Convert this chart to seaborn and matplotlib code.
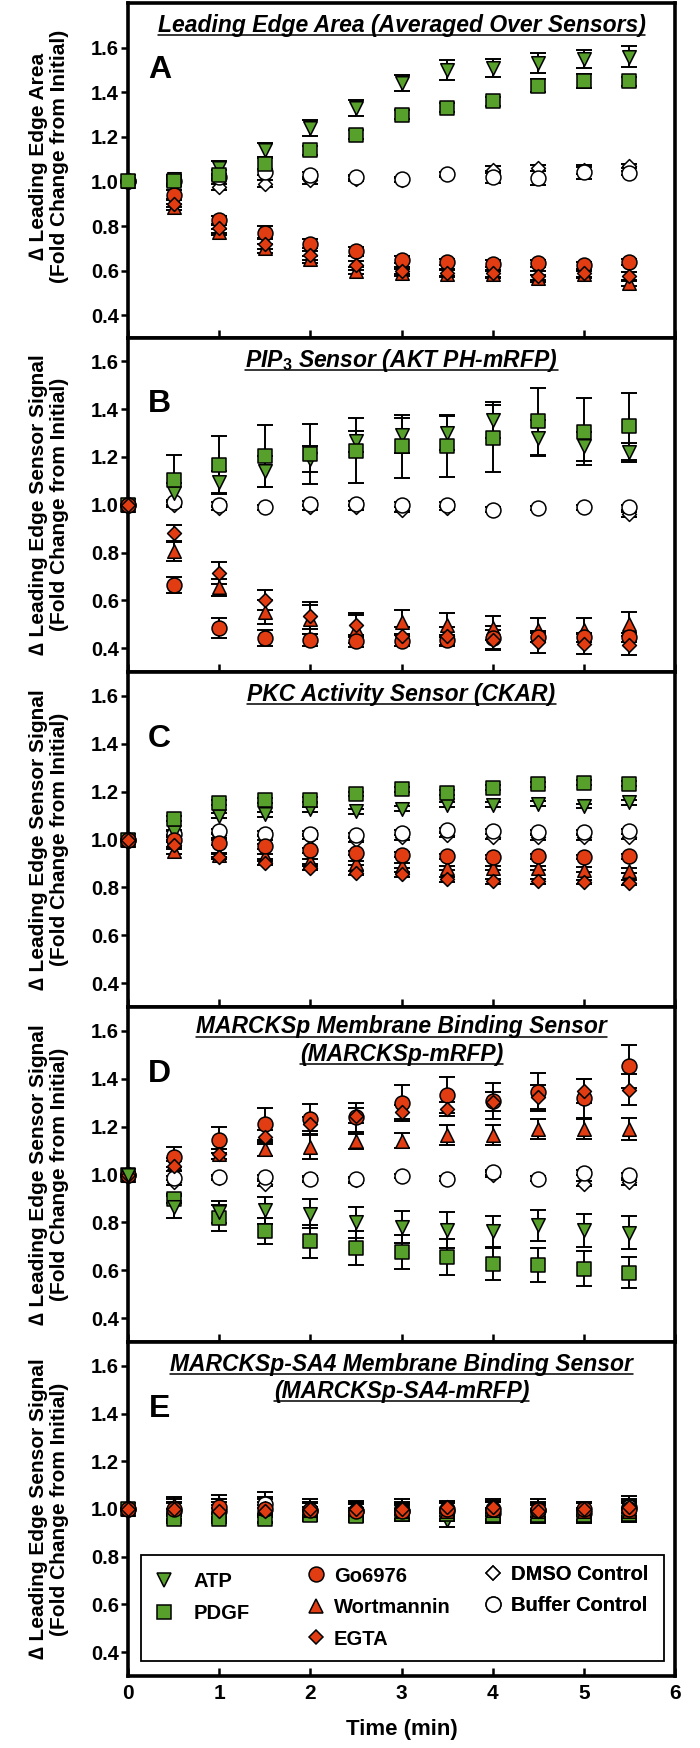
import matplotlib
matplotlib.use("Agg")
import matplotlib.pyplot as plt
import seaborn as sns
import numpy as np
import pandas as pd
from matplotlib.lines import Line2D
from matplotlib.patches import Rectangle
from matplotlib.ticker import FormatStrFormatter

# ---------------- data ----------------
times = [0, 0.5, 1, 1.5, 2, 2.5, 3, 3.5, 4, 4.5, 5, 5.5]
treatments = ["ATP", "PDGF", "Go6976", "Wortmannin", "EGTA", "DMSO Control", "Buffer Control"]

panel_letters = ["A", "B", "C", "D", "E"]
panel_titles = [
    ["Leading Edge Area (Averaged Over Sensors)"],
    ["PIP$_3$ Sensor (AKT PH-mRFP)"],
    ["PKC Activity Sensor (CKAR)"],
    ["MARCKSp Membrane Binding Sensor", "(MARCKSp-mRFP)"],
    ["MARCKSp-SA4 Membrane Binding Sensor", "(MARCKSp-SA4-mRFP)"],
]
ylabels = [
    "\u2206 Leading Edge Area\n(Fold Change from Initial)",
    "\u2206 Leading Edge Sensor Signal\n(Fold Change from Initial)",
    "\u2206 Leading Edge Sensor Signal\n(Fold Change from Initial)",
    "\u2206 Leading Edge Sensor Signal\n(Fold Change from Initial)",
    "\u2206 Leading Edge Sensor Signal\n(Fold Change from Initial)",
]
yticks = [0.4, 0.6, 0.8, 1.0, 1.2, 1.4, 1.6]
xticks = [0, 1, 2, 3, 4, 5, 6]

A_mean = {
    "ATP":            [1.00, 1.01, 1.06, 1.14, 1.24, 1.33, 1.44, 1.50, 1.51, 1.53, 1.55, 1.56],
    "PDGF":           [1.00, 1.00, 1.03, 1.08, 1.14, 1.21, 1.30, 1.33, 1.36, 1.43, 1.45, 1.45],
    "Go6976":         [1.00, 0.94, 0.825, 0.77, 0.72, 0.687, 0.649, 0.638, 0.631, 0.632, 0.623, 0.638],
    "Wortmannin":     [1.00, 0.885, 0.773, 0.70, 0.65, 0.60, 0.59, 0.586, 0.583, 0.565, 0.583, 0.545],
    "EGTA":           [1.00, 0.90, 0.79, 0.72, 0.668, 0.623, 0.60, 0.59, 0.588, 0.578, 0.588, 0.574],
    "DMSO Control":   [1.00, 1.00, 0.975, 0.99, 1.005, 1.012, 1.007, 1.034, 1.052, 1.06, 1.05, 1.069],
    "Buffer Control": [1.00, 1.00, 1.02, 1.042, 1.027, 1.02, 1.009, 1.031, 1.02, 1.015, 1.042, 1.037],
}
A_err = {
    "ATP":            [0, 0.02, 0.03, 0.03, 0.035, 0.035, 0.035, 0.045, 0.04, 0.045, 0.04, 0.045],
    "PDGF":           [0, 0.02, 0.02, 0.025, 0.02, 0.02, 0.02, 0.02, 0.02, 0.03, 0.03, 0.02],
    "Go6976":         [0, 0.02, 0.02, 0.03, 0.02, 0.02, 0.015, 0.015, 0.015, 0.015, 0.015, 0.015],
    "Wortmannin":     [0, 0.015, 0.015, 0.02, 0.015, 0.015, 0.015, 0.015, 0.015, 0.015, 0.015, 0.015],
    "EGTA":           [0, 0.015, 0.02, 0.025, 0.02, 0.02, 0.015, 0.015, 0.015, 0.02, 0.015, 0.02],
    "DMSO Control":   [0, 0.01, 0.015, 0.015, 0.015, 0.01, 0.01, 0.01, 0.015, 0.015, 0.015, 0.01],
    "Buffer Control": [0, 0.01, 0.015, 0.015, 0.015, 0.01, 0.01, 0.01, 0.025, 0.03, 0.03, 0.01],
}

B_mean = {
    "ATP":            [1.00, 1.05, 1.095, 1.14, 1.19, 1.265, 1.29, 1.30, 1.355, 1.28, 1.245, 1.22],
    "PDGF":           [1.00, 1.105, 1.167, 1.205, 1.213, 1.226, 1.244, 1.247, 1.279, 1.35, 1.306, 1.328],
    "Go6976":         [1.00, 0.665, 0.484, 0.442, 0.435, 0.431, 0.43, 0.435, 0.442, 0.445, 0.445, 0.445],
    "Wortmannin":     [1.00, 0.805, 0.654, 0.55, 0.52, 0.48, 0.508, 0.495, 0.484, 0.477, 0.477, 0.50],
    "EGTA":           [1.00, 0.881, 0.714, 0.603, 0.536, 0.495, 0.449, 0.449, 0.435, 0.425, 0.417, 0.412],
    "DMSO Control":   [1.00, 1.00, 0.986, 0.99, 0.99, 0.99, 0.98, 0.986, 0.98, 0.986, 0.99, 0.96],
    "Buffer Control": [1.00, 1.01, 1.00, 0.99, 1.005, 1.005, 1.00, 1.00, 0.98, 0.986, 0.99, 0.99],
}
B_err = {
    "ATP":            [0, 0.04, 0.045, 0.065, 0.055, 0.045, 0.075, 0.07, 0.075, 0.075, 0.06, 0.04],
    "PDGF":           [0, 0.105, 0.12, 0.13, 0.125, 0.135, 0.13, 0.13, 0.14, 0.14, 0.14, 0.14],
    "Go6976":         [0, 0.033, 0.04, 0.032, 0.026, 0.025, 0.023, 0.02, 0.05, 0.02, 0.02, 0.02],
    "Wortmannin":     [0, 0.04, 0.037, 0.05, 0.06, 0.06, 0.05, 0.05, 0.05, 0.05, 0.05, 0.05],
    "EGTA":           [0, 0.033, 0.046, 0.042, 0.055, 0.05, 0.04, 0.04, 0.04, 0.045, 0.04, 0.04],
    "DMSO Control":   [0, 0.01, 0.01, 0.01, 0.01, 0.01, 0.01, 0.01, 0.01, 0.01, 0.01, 0.01],
    "Buffer Control": [0, 0.01, 0.01, 0.01, 0.01, 0.01, 0.01, 0.01, 0.01, 0.01, 0.01, 0.01],
}

C_mean = {
    "ATP":            [1.00, 1.03, 1.10, 1.105, 1.126, 1.118, 1.128, 1.146, 1.146, 1.149, 1.14, 1.156],
    "PDGF":           [1.00, 1.087, 1.153, 1.163, 1.167, 1.19, 1.209, 1.195, 1.216, 1.23, 1.237, 1.234],
    "Go6976":         [1.00, 1.00, 0.986, 0.972, 0.955, 0.944, 0.937, 0.93, 0.927, 0.93, 0.927, 0.93],
    "Wortmannin":     [1.00, 0.951, 0.935, 0.93, 0.909, 0.902, 0.891, 0.881, 0.881, 0.881, 0.874, 0.87],
    "EGTA":           [1.00, 0.979, 0.928, 0.902, 0.881, 0.86, 0.854, 0.833, 0.826, 0.826, 0.822, 0.82],
    "DMSO Control":   [1.00, 1.007, 1.017, 1.01, 1.012, 1.00, 1.01, 1.02, 1.012, 1.01, 1.01, 1.012],
    "Buffer Control": [1.00, 1.025, 1.035, 1.025, 1.025, 1.017, 1.028, 1.038, 1.035, 1.031, 1.031, 1.035],
}
C_err = {k: [0] + [0.01] * 11 for k in treatments}

D_mean = {
    "ATP":            [1.00, 0.864, 0.843, 0.85, 0.836, 0.80, 0.781, 0.767, 0.763, 0.788, 0.767, 0.757],
    "PDGF":           [1.00, 0.899, 0.818, 0.764, 0.721, 0.693, 0.677, 0.656, 0.625, 0.621, 0.607, 0.589],
    "Go6976":         [1.00, 1.072, 1.145, 1.211, 1.232, 1.239, 1.30, 1.332, 1.308, 1.346, 1.318, 1.452],
    "Wortmannin":     [1.00, 1.05, 1.085, 1.107, 1.114, 1.138, 1.142, 1.165, 1.165, 1.19, 1.19, 1.19],
    "EGTA":           [1.00, 1.035, 1.086, 1.156, 1.211, 1.246, 1.26, 1.274, 1.304, 1.322, 1.35, 1.354],
    "DMSO Control":   [1.00, 0.968, 0.985, 0.962, 0.982, 0.975, 0.994, 0.982, 0.999, 0.982, 0.962, 0.968],
    "Buffer Control": [1.00, 0.985, 0.99, 0.99, 0.98, 0.98, 0.994, 0.982, 1.01, 0.982, 1.007, 0.996],
}
D_err = {
    "ATP":            [0, 0.045, 0.045, 0.055, 0.06, 0.065, 0.066, 0.075, 0.065, 0.065, 0.07, 0.07],
    "PDGF":           [0, 0.02, 0.055, 0.053, 0.07, 0.07, 0.07, 0.074, 0.067, 0.072, 0.072, 0.065],
    "Go6976":         [0, 0.042, 0.055, 0.066, 0.062, 0.06, 0.075, 0.075, 0.074, 0.08, 0.08, 0.09],
    "Wortmannin":     [0, 0.02, 0.02, 0.03, 0.05, 0.03, 0.03, 0.04, 0.04, 0.04, 0.04, 0.045],
    "EGTA":           [0, 0.02, 0.02, 0.03, 0.03, 0.03, 0.03, 0.03, 0.04, 0.05, 0.05, 0.065],
    "DMSO Control":   [0, 0.01, 0.01, 0.01, 0.01, 0.01, 0.01, 0.01, 0.01, 0.01, 0.01, 0.01],
    "Buffer Control": [0, 0.01, 0.01, 0.01, 0.01, 0.01, 0.01, 0.01, 0.01, 0.01, 0.01, 0.01],
}

E_mean = {
    "ATP":            [1.00, 0.97, 0.975, 0.975, 0.98, 0.975, 0.985, 0.955, 0.975, 0.97, 0.975, 0.975],
    "PDGF":           [1.00, 0.96, 0.96, 0.96, 0.975, 0.97, 0.98, 0.98, 0.975, 0.975, 0.975, 0.98],
    "Go6976":         [1.00, 1.00, 1.01, 1.00, 0.995, 0.99, 0.99, 1.00, 1.00, 0.995, 1.00, 1.00],
    "Wortmannin":     [1.00, 1.015, 1.02, 1.005, 0.995, 1.00, 0.99, 0.99, 0.995, 0.99, 0.99, 0.99],
    "EGTA":           [1.00, 1.00, 0.99, 0.99, 1.00, 1.00, 1.00, 1.01, 1.01, 0.99, 1.00, 1.01],
    "DMSO Control":   [1.00, 1.00, 1.00, 1.01, 1.00, 0.99, 1.00, 0.99, 1.00, 0.99, 0.99, 1.00],
    "Buffer Control": [1.00, 0.99, 0.99, 1.02, 0.99, 0.99, 0.99, 0.99, 0.985, 0.995, 0.985, 1.01],
}
E_err = {
    "ATP":            [0, 0.03, 0.03, 0.03, 0.03, 0.03, 0.03, 0.03, 0.03, 0.03, 0.03, 0.03],
    "PDGF":           [0, 0.02, 0.02, 0.02, 0.02, 0.02, 0.02, 0.02, 0.02, 0.02, 0.02, 0.02],
    "Go6976":         [0, 0.03, 0.03, 0.03, 0.03, 0.03, 0.03, 0.03, 0.03, 0.03, 0.03, 0.03],
    "Wortmannin":     [0, 0.035, 0.04, 0.035, 0.035, 0.035, 0.035, 0.035, 0.035, 0.035, 0.035, 0.035],
    "EGTA":           [0, 0.025, 0.025, 0.025, 0.025, 0.025, 0.025, 0.025, 0.025, 0.025, 0.025, 0.025],
    "DMSO Control":   [0, 0.04, 0.04, 0.04, 0.04, 0.04, 0.04, 0.04, 0.04, 0.04, 0.04, 0.04],
    "Buffer Control": [0, 0.04, 0.04, 0.05, 0.04, 0.04, 0.04, 0.04, 0.045, 0.045, 0.045, 0.045],
}

panel_means = [A_mean, B_mean, C_mean, D_mean, E_mean]
panel_errs = [A_err, B_err, C_err, D_err, E_err]
top_series = ["PDGF", "EGTA", "EGTA", "ATP", "EGTA"]

# ---------------- style ----------------
GREEN = "#58a02c"
RED = "#e13c12"
style = {
    "ATP":            dict(color=GREEN, marker="v", s=95),
    "PDGF":           dict(color=GREEN, marker="s", s=105),
    "Go6976":         dict(color=RED, marker="o", s=115),
    "Wortmannin":     dict(color=RED, marker="^", s=95),
    "EGTA":           dict(color=RED, marker="D", s=50),
    "DMSO Control":   dict(color="white", marker="D", s=50),
    "Buffer Control": dict(color="white", marker="o", s=115),
}
base_order = ["DMSO Control", "Buffer Control", "ATP", "PDGF", "Wortmannin", "Go6976", "EGTA"]

sns.set_theme(style="ticks")
plt.rcParams["font.family"] = ["Liberation Sans", "DejaVu Sans"]
plt.rcParams["font.weight"] = "bold"
plt.rcParams["mathtext.fontset"] = "custom"
plt.rcParams["mathtext.rm"] = "Liberation Sans:bold"
plt.rcParams["mathtext.it"] = "Liberation Sans:italic:bold"
plt.rcParams["mathtext.bf"] = "Liberation Sans:bold"
plt.rcParams["mathtext.default"] = "it"
for k in ["text.color", "axes.labelcolor", "xtick.color", "ytick.color", "axes.edgecolor"]:
    plt.rcParams[k] = "black"

W, H = 700, 1748
fig = plt.figure(figsize=(W / 100, H / 100), dpi=100)
bounds = [3, 337.5, 672, 1007, 1342, 1676]
left_px, width_px = 128, 547

axes = []
title_texts = []
for i in range(5):
    top, bot = bounds[i], bounds[i + 1]
    hpx = bot - top
    ax = fig.add_axes([left_px / W, 1 - bot / H, width_px / W, hpx / H])
    axes.append(ax)
    means, errs = panel_means[i], panel_errs[i]
    rows = []
    for t in treatments:
        for x, v, e in zip(times, means[t], errs[t]):
            rows.append(dict(time=x, value=v, err=e, treatment=t))
    df = pd.DataFrame(rows)
    order = [t for t in base_order if t != top_series[i]] + [top_series[i]]
    for t in order:
        sub = df[df["treatment"] == t]
        ax.errorbar(sub["time"], sub["value"], yerr=sub["err"], fmt="none",
                    ecolor="black", elinewidth=1.4, capsize=5.5, capthick=1.4,
                    zorder=2, clip_on=False)
        st = style[t]
        sns.scatterplot(data=sub, x="time", y="value", marker=st["marker"], s=st["s"],
                        color=st["color"], edgecolor="black", linewidth=1.1,
                        ax=ax, zorder=3, clip_on=False, legend=False)

    ax.set_xlim(0, 6)
    ax.set_ylim(0.3, 1.8 if i == 0 else 1.7)
    ax.set_yticks(yticks)
    ax.yaxis.set_major_formatter(FormatStrFormatter("%.1f"))
    ax.set_xticks(xticks)
    ax.tick_params(axis="x", direction="in", length=5.5, width=1.8, labelsize=15,
                   pad=6, labelbottom=(i == 4), top=False)
    ax.tick_params(axis="y", direction="out", length=5, width=1.8, labelsize=14.5,
                   pad=1.5, right=False)
    for sp in ax.spines.values():
        sp.set_linewidth(2.6)
        sp.set_color("black")
    ax.set_xlabel("")
    ax.set_ylabel(ylabels[i], fontsize=15, fontweight="bold", linespacing=1.12)
    ax.yaxis.set_label_coords(-0.108, 0.54 if i == 0 else 0.5)

    # panel letter
    ax.text(0.058, 1 - 67 / hpx, panel_letters[i], transform=ax.transAxes,
            fontsize=23, fontweight="bold", ha="center", va="center")

    # titles (baseline positions in px below the axes top)
    lines = panel_titles[i]
    if len(lines) == 1:
        offs = [29]
    else:
        offs = [26.5, 54] if i == 3 else [29, 56]
    for line, off in zip(lines, offs):
        tt = ax.text(0.5, 1 - off / hpx, line, transform=ax.transAxes,
                     fontsize=16.5, fontweight="bold", fontstyle="italic",
                     ha="center", va="baseline")
        title_texts.append((ax, tt, 1 - off / hpx))

axes[4].set_xlabel("Time (min)", fontsize=16, fontweight="bold", labelpad=11)

# ---------------- legend (panel E) ----------------
axE = axes[4]
axE.add_patch(Rectangle((0.024, 0.045), 0.956, 0.317, transform=axE.transAxes,
                        facecolor="white", edgecolor="black", lw=1.3, zorder=4.5))


def make_handle(t):
    st = style[t]
    return Line2D([], [], linestyle="none", marker=st["marker"],
                  markersize=np.sqrt(st["s"]), markerfacecolor=st["color"],
                  markeredgecolor="black", markeredgewidth=1.1)


legend_cols = [
    (["ATP", "PDGF"], (0.0475, 0.235), 0.95),
    (["Go6976", "Wortmannin", "EGTA"], (0.325, 0.205), 0.4),
    (["DMSO Control", "Buffer Control"], (0.649, 0.2575), 0.4),
]
for names, anchor, htp in legend_cols:
    leg = axE.legend([make_handle(n) for n in names], names, loc="center left",
                     bbox_to_anchor=anchor, bbox_transform=axE.transAxes,
                     frameon=False, borderpad=0, borderaxespad=0,
                     handlelength=1.0, handletextpad=htp, labelspacing=0.62,
                     prop={"weight": "bold", "size": 14.5})
    leg.set_zorder(5)
    axE.add_artist(leg)

# ---------------- underline titles ----------------
fig.canvas.draw()
renderer = fig.canvas.get_renderer()
for ax, tt, yb in title_texts:
    bb = tt.get_window_extent(renderer)
    base_px = ax.transAxes.transform((0.5, yb))[1]
    y_line = base_px - 3.0
    inv = ax.transAxes.inverted()
    (x0, y0) = inv.transform((bb.x0, y_line))
    (x1, _) = inv.transform((bb.x1, y_line))
    ax.add_line(Line2D([x0, x1], [y0, y0], transform=ax.transAxes, color="black",
                       lw=1.1, clip_on=False, zorder=6))

fig.savefig("out.png", dpi=100)
